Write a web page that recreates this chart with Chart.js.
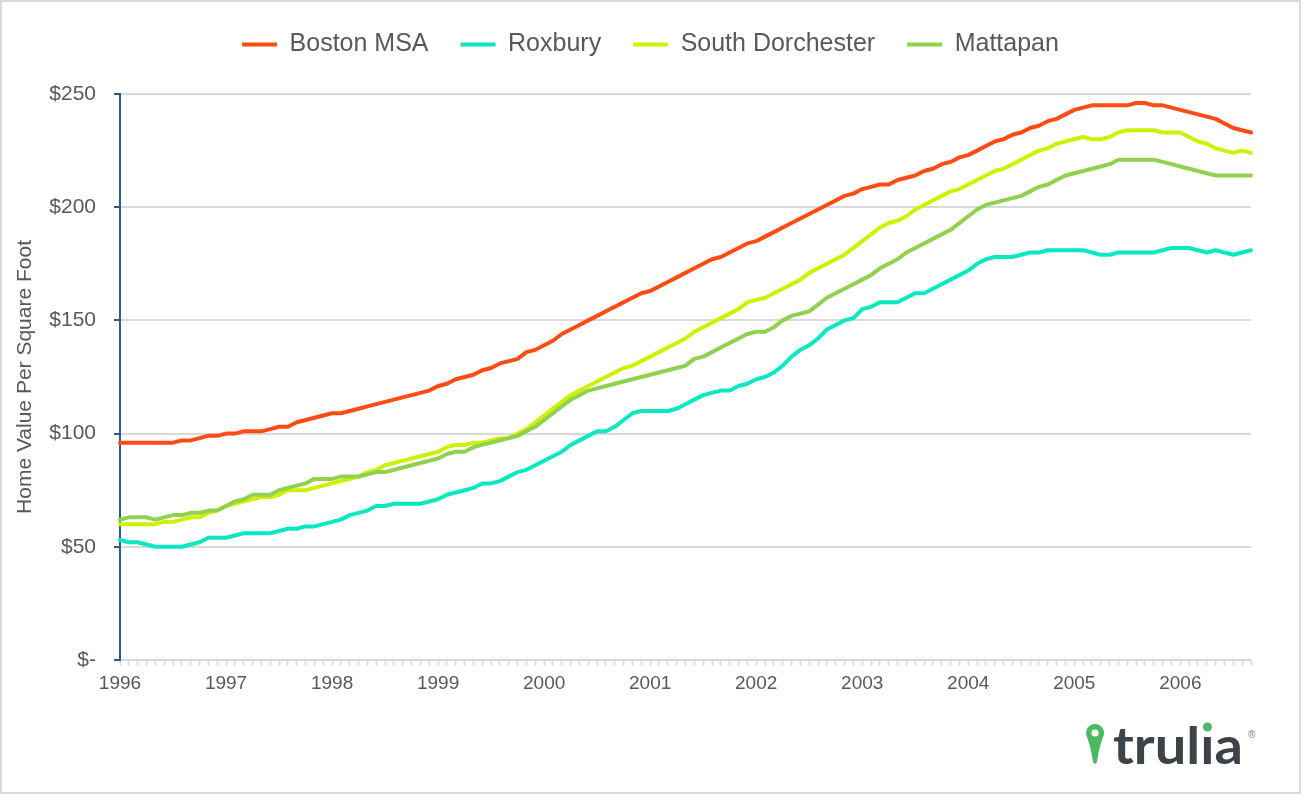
<!DOCTYPE html>
<html>
<head>
<meta charset="utf-8">
<title>Home Value Per Square Foot</title>
<script src="https://cdn.jsdelivr.net/npm/chart.js@4.4.0/dist/chart.umd.min.js"></script>
<style>
  html, body { margin: 0; padding: 0; background: #fff; }
  #wrap { width: 1301px; height: 794px; position: relative; }
</style>
</head>
<body>
<div id="wrap"><canvas id="homeValueChart" width="1301" height="794"></canvas></div>
<script>
// Monthly values, Jan 1996 - Sep 2006 ($ per square foot)
const years = [1996, 1997, 1998, 1999, 2000, 2001, 2002, 2003, 2004, 2005, 2006];

const bostonMsa = [
    96, 96, 96, 96, 96, 96, 96, 97, 97, 98, 99, 99,
    100, 100, 101, 101, 101, 102, 103, 103, 105, 106, 107, 108,
    109, 109, 110, 111, 112, 113, 114, 115, 116, 117, 118, 119,
    121, 122, 124, 125, 126, 128, 129, 131, 132, 133, 136, 137,
    139, 141, 144, 146, 148, 150, 152, 154, 156, 158, 160, 162,
    163, 165, 167, 169, 171, 173, 175, 177, 178, 180, 182, 184,
    185, 187, 189, 191, 193, 195, 197, 199, 201, 203, 205, 206,
    208, 209, 210, 210, 212, 213, 214, 216, 217, 219, 220, 222,
    223, 225, 227, 229, 230, 232, 233, 235, 236, 238, 239, 241,
    243, 244, 245, 245, 245, 245, 245, 246, 246, 245, 245, 244,
    243, 242, 241, 240, 239, 237, 235, 234, 233
];

const roxbury = [
    53, 52, 52, 51, 50, 50, 50, 50, 51, 52, 54, 54,
    54, 55, 56, 56, 56, 56, 57, 58, 58, 59, 59, 60,
    61, 62, 64, 65, 66, 68, 68, 69, 69, 69, 69, 70,
    71, 73, 74, 75, 76, 78, 78, 79, 81, 83, 84, 86,
    88, 90, 92, 95, 97, 99, 101, 101, 103, 106, 109, 110,
    110, 110, 110, 111, 113, 115, 117, 118, 119, 119, 121, 122,
    124, 125, 127, 130, 134, 137, 139, 142, 146, 148, 150, 151,
    155, 156, 158, 158, 158, 160, 162, 162, 164, 166, 168, 170,
    172, 175, 177, 178, 178, 178, 179, 180, 180, 181, 181, 181,
    181, 181, 180, 179, 179, 180, 180, 180, 180, 180, 181, 182,
    182, 182, 181, 180, 181, 180, 179, 180, 181
];

const southDorchester = [
    60, 60, 60, 60, 60, 61, 61, 62, 63, 63, 65, 66,
    68, 69, 70, 71, 72, 72, 73, 75, 75, 75, 76, 77,
    78, 79, 80, 81, 83, 84, 86, 87, 88, 89, 90, 91,
    92, 94, 95, 95, 96, 96, 97, 98, 98, 100, 102, 105,
    108, 111, 114, 117, 119, 121, 123, 125, 127, 129, 130, 132,
    134, 136, 138, 140, 142, 145, 147, 149, 151, 153, 155, 158,
    159, 160, 162, 164, 166, 168, 171, 173, 175, 177, 179, 182,
    185, 188, 191, 193, 194, 196, 199, 201, 203, 205, 207, 208,
    210, 212, 214, 216, 217, 219, 221, 223, 225, 226, 228, 229,
    230, 231, 230, 230, 231, 233, 234, 234, 234, 234, 233, 233,
    233, 231, 229, 228, 226, 225, 224, 225, 224
];

const mattapan = [
    62, 63, 63, 63, 62, 63, 64, 64, 65, 65, 66, 66,
    68, 70, 71, 73, 73, 73, 75, 76, 77, 78, 80, 80,
    80, 81, 81, 81, 82, 83, 83, 84, 85, 86, 87, 88,
    89, 91, 92, 92, 94, 95, 96, 97, 98, 99, 101, 103,
    106, 109, 112, 115, 117, 119, 120, 121, 122, 123, 124, 125,
    126, 127, 128, 129, 130, 133, 134, 136, 138, 140, 142, 144,
    145, 145, 147, 150, 152, 153, 154, 157, 160, 162, 164, 166,
    168, 170, 173, 175, 177, 180, 182, 184, 186, 188, 190, 193,
    196, 199, 201, 202, 203, 204, 205, 207, 209, 210, 212, 214,
    215, 216, 217, 218, 219, 221, 221, 221, 221, 221, 220, 219,
    218, 217, 216, 215, 214, 214, 214, 214, 214
];

const seriesNames = ['Boston MSA', 'Roxbury', 'South Dorchester', 'Mattapan'];
const seriesColors = ['#ff4b14', '#0ae8bf', '#cdf200', '#92d050'];

const textColor = '#595959';
const gridColor = '#d9d9d9';
const axisBlue = '#2f5a8c';
const fontFamily = '"Liberation Sans", Arial, sans-serif';

// month labels for the category axis
const labels = [];
years.forEach(function (y) {
    for (let m = 1; m <= 12; m++) labels.push(y + '-' + String(m).padStart(2, '0'));
});
labels.length = bostonMsa.length;

Chart.defaults.font.family = fontFamily;
Chart.defaults.color = textColor;

// extra room under the legend so the plot starts lower
const legendSpacer = {
    id: 'legendSpacer',
    beforeInit(chart) {
        const fit = chart.legend.fit;
        chart.legend.fit = function () {
            fit.bind(chart.legend)();
            this.height += 27;
        };
    }
};

// white background, thin frame and the trulia mark
const framePlugin = {
    id: 'frame',
    beforeDraw(chart) {
        const ctx = chart.ctx;
        ctx.save();
        ctx.fillStyle = '#fff';
        ctx.fillRect(0, 0, chart.width, chart.height);
        ctx.restore();
    },
    afterDraw(chart) {
        const ctx = chart.ctx;
        ctx.save();
        ctx.strokeStyle = '#d9d9d9';
        ctx.lineWidth = 2;
        ctx.strokeRect(1, 1, chart.width - 2, chart.height - 2);

        // pin
        ctx.fillStyle = '#4cb85f';
        ctx.beginPath();
        ctx.arc(1095, 733, 9, Math.PI * 5 / 6, Math.PI / 6, false);
        ctx.quadraticCurveTo(1099, 748, 1097, 762);
        ctx.quadraticCurveTo(1095, 766, 1093, 762);
        ctx.quadraticCurveTo(1091, 748, 1087.2, 737.5);
        ctx.closePath();
        ctx.fill();
        ctx.fillStyle = '#fff';
        ctx.beginPath();
        ctx.arc(1095, 733, 3.6, 0, Math.PI * 2);
        ctx.fill();

        // word mark
        ctx.font = 'bold 52px Lato, "Open Sans", sans-serif';
        ctx.fillStyle = '#3d4449';
        ctx.textBaseline = 'alphabetic';
        const word = 'trul\u0131a';
        const s = 130 / ctx.measureText(word).width;
        const dotX = 1113 + (ctx.measureText('trul').width + ctx.measureText('\u0131').width / 2) * s;
        ctx.save();
        ctx.translate(1113, 764);
        ctx.scale(s, 1);
        ctx.fillText(word, 0, 0);
        ctx.restore();
        ctx.fillStyle = '#4cb85f';
        ctx.beginPath();
        ctx.arc(dotX, 727, 4.5, 0, Math.PI * 2);
        ctx.fill();
        ctx.fillStyle = '#7f7f7f';
        ctx.font = '10px ' + fontFamily;
        ctx.fillText('\u00ae', 1248, 738);
        ctx.restore();
    }
};

const datasets = seriesNames.map(function (name, i) {
    return {
        label: name,
        data: [bostonMsa, roxbury, southDorchester, mattapan][i],
        borderColor: seriesColors[i],
        backgroundColor: seriesColors[i],
        borderWidth: 4,
        borderJoinStyle: 'round',
        borderCapStyle: 'round',
        pointRadius: 0,
        pointHoverRadius: 0,
        tension: 0,
        fill: false,
        order: 3 - i
    };
});

const config = {
    type: 'line',
    data: { labels: labels, datasets: datasets },
    options: {
        responsive: false,
        animation: false,
        events: [],
        layout: { padding: { top: 0, left: 0, right: 0, bottom: 0 } },
        plugins: {
            legend: {
                position: 'top',
                labels: {
                    usePointStyle: true,
                    pointStyle: 'line',
                    pointStyleWidth: 35,
                    padding: 32,
                    color: textColor,
                    font: { size: 25 },
                    sort: function (a, b) { return a.datasetIndex - b.datasetIndex; }
                }
            },
            tooltip: { enabled: false },
            title: { display: false }
        },
        scales: {
            x: {
                type: 'category',
                offset: false,
                border: { color: gridColor, width: 2 },
                grid: {
                    drawOnChartArea: false,
                    drawTicks: true,
                    tickLength: 6,
                    tickColor: gridColor,
                    tickWidth: 1.5
                },
                ticks: {
                    autoSkip: false,
                    maxRotation: 0,
                    minRotation: 0,
                    padding: 6,
                    color: textColor,
                    font: { size: 19 },
                    callback: function (v, i) {
                        return i % 12 === 0 ? labels[i].slice(0, 4) : '';
                    }
                },
                afterFit: function (scale) { scale.height = 134; }
            },
            y: {
                position: 'left',
                min: 0,
                max: 250,
                border: { color: axisBlue, width: 2 },
                grid: {
                    color: gridColor,
                    lineWidth: 2,
                    drawTicks: true,
                    tickLength: 6,
                    tickColor: axisBlue,
                    tickWidth: 2
                },
                ticks: {
                    stepSize: 50,
                    padding: 18,
                    color: textColor,
                    font: { size: 21 },
                    callback: function (v) { return v === 0 ? '$-' : '$' + v; }
                },
                title: {
                    display: true,
                    text: 'Home Value Per Square Foot',
                    color: textColor,
                    font: { size: 21 },
                    padding: { top: 13, bottom: 0 }
                },
                afterFit: function (scale) { scale.width = 120; }
            },
            yRight: {
                position: 'right',
                display: true,
                min: 0,
                max: 1,
                grid: { display: false },
                border: { display: false },
                ticks: { display: false },
                afterFit: function (scale) { scale.width = 50; }
            }
        }
    },
    plugins: [legendSpacer, framePlugin]
};

const ctxHomeValue = document.getElementById('homeValueChart');
new Chart(ctxHomeValue, config);
</script>
</body>
</html>
